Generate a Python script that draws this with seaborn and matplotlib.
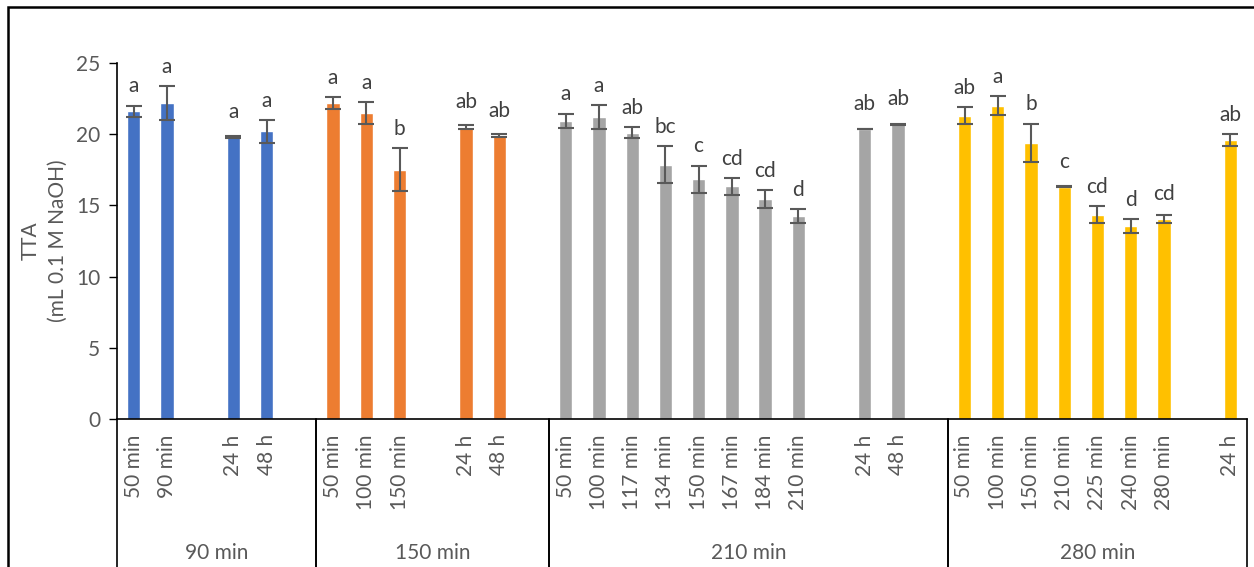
import matplotlib
matplotlib.use("Agg")
import matplotlib.pyplot as plt
import matplotlib.transforms as mtransforms
from matplotlib.patches import Rectangle
import seaborn as sns
import pandas as pd
import numpy as np

# 그룹 (총 처리 시간) 과 각 그룹의 시료 시점, 빈 칸은 ""
groups = ["90 min", "150 min", "210 min", "280 min"]
times_90 = ["50 min", "90 min", "", "24 h", "48 h", ""]
times_150 = ["50 min", "100 min", "150 min", "", "24 h", "48 h", ""]
times_210 = ["50 min", "100 min", "117 min", "134 min", "150 min", "167 min",
             "184 min", "210 min", "", "24 h", "48 h", ""]
times_280 = ["50 min", "100 min", "150 min", "210 min", "225 min", "240 min",
             "280 min", "", "24 h"]

# TTA 평균값
tta_90 = [21.6, 22.2, None, 19.8, 20.2, None]
tta_150 = [22.2, 21.5, 17.5, None, 20.5, 19.9, None]
tta_210 = [20.95, 21.2, 20.1, 17.85, 16.85, 16.35, 15.45, 14.25, None, 20.35, 20.7, None]
tta_280 = [21.3, 22.0, 19.4, 16.3, 14.35, 13.55, 14.05, None, 19.6]

# 표준편차
sd_90 = [0.4, 1.2, None, 0.05, 0.8, None]
sd_150 = [0.4, 0.75, 1.5, None, 0.15, 0.1, None]
sd_210 = [0.5, 0.85, 0.4, 1.3, 0.95, 0.6, 0.6, 0.5, None, 0.0, 0.03, None]
sd_280 = [0.6, 0.65, 1.35, 0.03, 0.6, 0.5, 0.3, None, 0.4]

# 유의성 문자
sig_90 = ["a", "a", "", "a", "a", ""]
sig_150 = ["a", "a", "b", "", "ab", "ab", ""]
sig_210 = ["a", "a", "ab", "bc", "c", "cd", "cd", "d", "", "ab", "ab", ""]
sig_280 = ["ab", "a", "b", "c", "cd", "d", "cd", "", "ab"]

colors = ["#4472C4", "#ED7D31", "#A5A5A5", "#FFC000"]

rows = []
order = []
for g, t, v, s, l in zip(groups,
                         [times_90, times_150, times_210, times_280],
                         [tta_90, tta_150, tta_210, tta_280],
                         [sd_90, sd_150, sd_210, sd_280],
                         [sig_90, sig_150, sig_210, sig_280]):
    for i in range(len(t)):
        key = f"{g}|{i}"
        order.append(key)
        rows.append({"slot": key, "group": g, "time": t[i],
                     "TTA": np.nan if v[i] is None else v[i],
                     "sd": np.nan if s[i] is None else s[i],
                     "sig": l[i]})
df = pd.DataFrame(rows)

sns.set_style("white")
plt.rcParams["font.family"] = ["Lato", "DejaVu Sans"]
grey = "#595959"
fs = 15

fig = plt.figure(figsize=(12.54, 5.67), dpi=100)
ax = fig.add_axes([117 / 1254, 1 - 419 / 567, (1247 - 117) / 1254, (419 - 63) / 567])

sns.barplot(data=df.dropna(subset=["TTA"]), x="slot", y="TTA", hue="group",
            order=order, hue_order=groups, palette=colors, dodge=False,
            width=0.4, saturation=1, legend=False, ax=ax)

pos = np.arange(len(order))
d = df.set_index("slot").loc[order]
ax.errorbar(pos, d["TTA"], yerr=d["sd"], fmt="none", ecolor=grey,
            elinewidth=1.5, capsize=5.5, capthick=1.5, zorder=3)

# 문자 표시
for x, (_, r) in zip(pos, d.iterrows()):
    if r["sig"]:
        y = max(r["TTA"] + 1.33, r["TTA"] + r["sd"] + 0.92)
        ax.text(x, y, r["sig"], ha="center", va="baseline", fontsize=fs,
                color="#404040", clip_on=False)

ax.set_xlim(-0.5, len(order) - 0.5)
ax.set_ylim(0, 25)
ax.set_yticks([0, 5, 10, 15, 20, 25])
ax.set_xticks(pos)
ax.set_xticklabels(d["time"], rotation=90, ha="center", va="top")
ax.tick_params(axis="x", length=0, pad=11, labelsize=fs, labelcolor=grey)
ax.tick_params(axis="y", direction="out", length=6, width=1, color="black",
               left=True, labelsize=fs, labelcolor=grey, pad=6)
ax.set_xlabel("")
ax.set_ylabel("TTA\n(mL 0.1 M NaOH)", fontsize=15, color=grey, labelpad=6,
              linespacing=1.45)

for side in ["top", "right"]:
    ax.spines[side].set_visible(False)
for side in ["left", "bottom"]:
    ax.spines[side].set_color("black")
    ax.spines[side].set_linewidth(1.2)

# 그룹 구분선 및 그룹 이름
trans = mtransforms.blended_transform_factory(ax.transData, ax.transAxes)
start = 0
for g, t in zip(groups, [times_90, times_150, times_210, times_280]):
    end = start + len(t)
    for b in [start - 0.5, end - 0.5]:
        ax.plot([b, b], [0, -0.5], transform=trans, color="black", lw=1.2,
                clip_on=False)
    ax.text((start + end - 1) / 2, -0.376, g, transform=trans, ha="center",
            va="center", fontsize=fs, color=grey)
    start = end

fig.patches.append(Rectangle((8 / 1254, -0.1), 1.2, 1.1 - 7 / 567,
                             transform=fig.transFigure, fill=False,
                             edgecolor="black", lw=1.8))

fig.savefig("out.png", dpi=100)
